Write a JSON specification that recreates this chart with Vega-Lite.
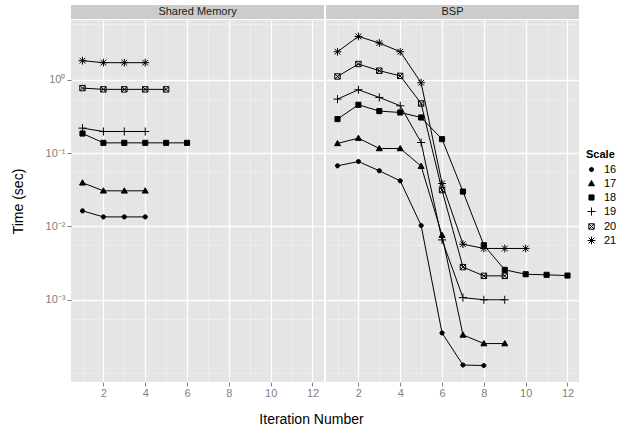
{
  "$schema": "https://vega.github.io/schema/vega-lite/v6.json",
  "padding": {"left": 11, "top": 5, "right": 0, "bottom": 0},
  "background": "white",
  "config": {
    "font": "Liberation Sans",
    "view": {"stroke": null},
    "axis": {"domain": false, "labelColor": "#7F7F7F", "labelFontSize": 11, "tickColor": "#7F7F7F", "tickWidth": 1, "titleFontWeight": "normal", "titleFontSize": 14, "titleColor": "black", "labelFont": "Liberation Sans", "titleFont": "Liberation Sans"}
  },
  "datasets": {
    "times": [
      {"panel": "Shared Memory", "scale": "16", "iter": 1, "time": 0.0163},
      {"panel": "Shared Memory", "scale": "16", "iter": 2, "time": 0.0135},
      {"panel": "Shared Memory", "scale": "16", "iter": 3, "time": 0.0135},
      {"panel": "Shared Memory", "scale": "16", "iter": 4, "time": 0.0135},
      {"panel": "Shared Memory", "scale": "17", "iter": 1, "time": 0.0394},
      {"panel": "Shared Memory", "scale": "17", "iter": 2, "time": 0.0306},
      {"panel": "Shared Memory", "scale": "17", "iter": 3, "time": 0.0306},
      {"panel": "Shared Memory", "scale": "17", "iter": 4, "time": 0.0306},
      {"panel": "Shared Memory", "scale": "18", "iter": 1, "time": 0.185},
      {"panel": "Shared Memory", "scale": "18", "iter": 2, "time": 0.138},
      {"panel": "Shared Memory", "scale": "18", "iter": 3, "time": 0.138},
      {"panel": "Shared Memory", "scale": "18", "iter": 4, "time": 0.138},
      {"panel": "Shared Memory", "scale": "18", "iter": 5, "time": 0.138},
      {"panel": "Shared Memory", "scale": "18", "iter": 6, "time": 0.138},
      {"panel": "Shared Memory", "scale": "19", "iter": 1, "time": 0.219},
      {"panel": "Shared Memory", "scale": "19", "iter": 2, "time": 0.197},
      {"panel": "Shared Memory", "scale": "19", "iter": 3, "time": 0.197},
      {"panel": "Shared Memory", "scale": "19", "iter": 4, "time": 0.197},
      {"panel": "Shared Memory", "scale": "20", "iter": 1, "time": 0.77},
      {"panel": "Shared Memory", "scale": "20", "iter": 2, "time": 0.74},
      {"panel": "Shared Memory", "scale": "20", "iter": 3, "time": 0.74},
      {"panel": "Shared Memory", "scale": "20", "iter": 4, "time": 0.74},
      {"panel": "Shared Memory", "scale": "20", "iter": 5, "time": 0.74},
      {"panel": "Shared Memory", "scale": "21", "iter": 1, "time": 1.82},
      {"panel": "Shared Memory", "scale": "21", "iter": 2, "time": 1.71},
      {"panel": "Shared Memory", "scale": "21", "iter": 3, "time": 1.71},
      {"panel": "Shared Memory", "scale": "21", "iter": 4, "time": 1.71},
      {"panel": "BSP", "scale": "16", "iter": 1, "time": 0.0671},
      {"panel": "BSP", "scale": "16", "iter": 2, "time": 0.0768},
      {"panel": "BSP", "scale": "16", "iter": 3, "time": 0.0574},
      {"panel": "BSP", "scale": "16", "iter": 4, "time": 0.0419},
      {"panel": "BSP", "scale": "16", "iter": 5, "time": 0.0103},
      {"panel": "BSP", "scale": "16", "iter": 6, "time": 0.000353},
      {"panel": "BSP", "scale": "16", "iter": 7, "time": 0.000129},
      {"panel": "BSP", "scale": "16", "iter": 8, "time": 0.000127},
      {"panel": "BSP", "scale": "17", "iter": 1, "time": 0.1355},
      {"panel": "BSP", "scale": "17", "iter": 2, "time": 0.16},
      {"panel": "BSP", "scale": "17", "iter": 3, "time": 0.1156},
      {"panel": "BSP", "scale": "17", "iter": 4, "time": 0.1156},
      {"panel": "BSP", "scale": "17", "iter": 5, "time": 0.0664},
      {"panel": "BSP", "scale": "17", "iter": 6, "time": 0.0076},
      {"panel": "BSP", "scale": "17", "iter": 7, "time": 0.000332},
      {"panel": "BSP", "scale": "17", "iter": 8, "time": 0.000253},
      {"panel": "BSP", "scale": "17", "iter": 9, "time": 0.000253},
      {"panel": "BSP", "scale": "18", "iter": 1, "time": 0.291},
      {"panel": "BSP", "scale": "18", "iter": 2, "time": 0.456},
      {"panel": "BSP", "scale": "18", "iter": 3, "time": 0.374},
      {"panel": "BSP", "scale": "18", "iter": 4, "time": 0.358},
      {"panel": "BSP", "scale": "18", "iter": 5, "time": 0.306},
      {"panel": "BSP", "scale": "18", "iter": 6, "time": 0.155},
      {"panel": "BSP", "scale": "18", "iter": 7, "time": 0.0299},
      {"panel": "BSP", "scale": "18", "iter": 8, "time": 0.00555},
      {"panel": "BSP", "scale": "18", "iter": 9, "time": 0.00256},
      {"panel": "BSP", "scale": "18", "iter": 10, "time": 0.00223},
      {"panel": "BSP", "scale": "18", "iter": 11, "time": 0.00219},
      {"panel": "BSP", "scale": "18", "iter": 12, "time": 0.00214},
      {"panel": "BSP", "scale": "19", "iter": 1, "time": 0.545},
      {"panel": "BSP", "scale": "19", "iter": 2, "time": 0.731},
      {"panel": "BSP", "scale": "19", "iter": 3, "time": 0.574},
      {"panel": "BSP", "scale": "19", "iter": 4, "time": 0.442},
      {"panel": "BSP", "scale": "19", "iter": 5, "time": 0.1395},
      {"panel": "BSP", "scale": "19", "iter": 6, "time": 0.00656},
      {"panel": "BSP", "scale": "19", "iter": 7, "time": 0.00107},
      {"panel": "BSP", "scale": "19", "iter": 8, "time": 0.001},
      {"panel": "BSP", "scale": "19", "iter": 9, "time": 0.001},
      {"panel": "BSP", "scale": "20", "iter": 1, "time": 1.11},
      {"panel": "BSP", "scale": "20", "iter": 2, "time": 1.64},
      {"panel": "BSP", "scale": "20", "iter": 3, "time": 1.33},
      {"panel": "BSP", "scale": "20", "iter": 4, "time": 1.13},
      {"panel": "BSP", "scale": "20", "iter": 5, "time": 0.475},
      {"panel": "BSP", "scale": "20", "iter": 6, "time": 0.0313},
      {"panel": "BSP", "scale": "20", "iter": 7, "time": 0.00279},
      {"panel": "BSP", "scale": "20", "iter": 8, "time": 0.00212},
      {"panel": "BSP", "scale": "20", "iter": 9, "time": 0.00212},
      {"panel": "BSP", "scale": "21", "iter": 1, "time": 2.41},
      {"panel": "BSP", "scale": "21", "iter": 2, "time": 3.9},
      {"panel": "BSP", "scale": "21", "iter": 3, "time": 3.17},
      {"panel": "BSP", "scale": "21", "iter": 4, "time": 2.41},
      {"panel": "BSP", "scale": "21", "iter": 5, "time": 0.91},
      {"panel": "BSP", "scale": "21", "iter": 6, "time": 0.0385},
      {"panel": "BSP", "scale": "21", "iter": 7, "time": 0.00573},
      {"panel": "BSP", "scale": "21", "iter": 8, "time": 0.00501},
      {"panel": "BSP", "scale": "21", "iter": 9, "time": 0.00501},
      {"panel": "BSP", "scale": "21", "iter": 10, "time": 0.00501}
    ]
  },
  "bounds": "flush",
  "columns": 2,
  "spacing": {"row": 1, "column": 2},
  "concat": [
    {
      "width": 253, "height": 14,
      "data": {"values": [{"label": "Shared Memory"}]},
      "mark": {"type": "text", "fontSize": 11, "color": "#1A1A1A", "baseline": "middle", "font": "Liberation Sans"},
      "encoding": {"text": {"field": "label"}},
      "view": {"fill": "#CCCCCC", "stroke": null}
    },
    {
      "width": 253, "height": 14,
      "data": {"values": [{"label": "BSP"}]},
      "mark": {"type": "text", "fontSize": 11, "color": "#1A1A1A", "baseline": "middle", "font": "Liberation Sans"},
      "encoding": {"text": {"field": "label"}},
      "view": {"fill": "#CCCCCC", "stroke": null}
    },
    {
      "width": 253, "height": 362,
      "data": {"name": "times"},
      "transform": [{"filter": "datum.panel == 'Shared Memory'"}],
      "view": {"fill": "#E5E5E5", "stroke": null},
      "encoding": {
        "x": {"field": "iter", "type": "quantitative",
          "scale": {"domain": [0.45, 12.55], "nice": false, "zero": false},
          "axis": {"values": [1,2,3,4,5,6,7,8,9,10,11,12], "title": "Iteration Number", "titleX": 240, "titlePadding": 14,
            "labelExpr": "datum.value % 2 == 0 ? datum.label : ''",
            "gridColor": {"condition": {"test": "datum.value % 2 == 0", "value": "#FFFFFF"}, "value": "#F2F2F2"},
            "gridWidth": {"condition": {"test": "datum.value % 2 == 0", "value": 1.3}, "value": 0.6},
            "tickOpacity": {"condition": {"test": "datum.value % 2 == 0", "value": 1}, "value": 0},
            "tickSize": 4, "labelPadding": 1, "labelOverlap": false, "labelFlush": false}},
        "y": {"field": "time", "type": "quantitative",
          "scale": {"type": "log", "domain": [0.0000757, 6.53], "nice": false},
          "axis": {"values": [5.7, 1, 0.55, 0.1, 0.055, 0.01, 0.0055, 0.001, 0.00055, 0.0001], "title": "Time (sec)", "titlePadding": 20,
            "labelExpr": "datum.value == 1 ? '10⁰' : datum.value == 0.1 ? '10⁻¹' : datum.value == 0.01 ? '10⁻²' : datum.value == 0.001 ? '10⁻³' : ''",
            "gridColor": {"condition": {"test": "datum.value == 1 || datum.value == 0.1 || datum.value == 0.01 || datum.value == 0.001", "value": "#FFFFFF"}, "value": "#F2F2F2"},
            "gridWidth": {"condition": {"test": "datum.value == 1 || datum.value == 0.1 || datum.value == 0.01 || datum.value == 0.001", "value": 1.3}, "value": 0.6},
            "tickOpacity": {"condition": {"test": "datum.value == 1 || datum.value == 0.1 || datum.value == 0.01 || datum.value == 0.001", "value": 1}, "value": 0},
            "tickSize": 4, "labelPadding": 2, "labelOverlap": false, "labelFlush": false}}
      },
      "layer": [
        {"mark": {"type": "line", "color": "black", "strokeWidth": 1}, "encoding": {"detail": {"field": "scale"}}},
        {"mark": {"type": "point", "filled": true, "strokeWidth": 1, "size": 36, "opacity": 1},
          "encoding": {
            "shape": {"field": "scale", "type": "nominal",
              "scale": {"domain": ["16","17","18","19","20","21"], "range": ["M-0.7,0A0.7,0.7 0 1,0 0.7,0A0.7,0.7 0 1,0 -0.7,0Z", "M0,-1L1,0.75L-1,0.75Z", "M-0.85,-0.85H0.85V0.85H-0.85Z", "M-1.35,0H1.35M0,-1.35V1.35", "M-0.9,-0.9H0.9V0.9H-0.9ZM-0.9,-0.9L0.9,0.9M-0.9,0.9L0.9,-0.9", "M-1.3,0H1.3M0,-1.3V1.3M-0.95,-0.95L0.95,0.95M-0.95,0.95L0.95,-0.95"]},
              "legend": {"title": "Scale", "orient": "none", "legendX": 515, "legendY": 144, "titleFontSize": 11, "titleFontWeight": "bold", "titleColor": "black", "labelFontSize": 11, "labelColor": "black", "symbolSize": 36, "symbolStrokeWidth": 1, "rowPadding": 2, "labelOffset": 7, "titlePadding": 4}},
            "fill": {"field": "scale", "type": "nominal",
              "scale": {"domain": ["16","17","18","19","20","21"], "range": ["black","black","black","transparent","transparent","transparent"]}},
            "stroke": {"field": "scale", "type": "nominal",
              "scale": {"domain": ["16","17","18","19","20","21"], "range": ["black","black","black","black","black","black"]}}
          }}
      ]
    },
    {
      "width": 253, "height": 362,
      "data": {"name": "times"},
      "transform": [{"filter": "datum.panel == 'BSP'"}],
      "view": {"fill": "#E5E5E5", "stroke": null},
      "encoding": {
        "x": {"field": "iter", "type": "quantitative",
          "scale": {"domain": [0.45, 12.55], "nice": false, "zero": false},
          "axis": {"values": [1,2,3,4,5,6,7,8,9,10,11,12], "title": null,
            "labelExpr": "datum.value % 2 == 0 ? datum.label : ''",
            "gridColor": {"condition": {"test": "datum.value % 2 == 0", "value": "#FFFFFF"}, "value": "#F2F2F2"},
            "gridWidth": {"condition": {"test": "datum.value % 2 == 0", "value": 1.3}, "value": 0.6},
            "tickOpacity": {"condition": {"test": "datum.value % 2 == 0", "value": 1}, "value": 0},
            "tickSize": 4, "labelPadding": 1, "labelOverlap": false, "labelFlush": false}},
        "y": {"field": "time", "type": "quantitative",
          "scale": {"type": "log", "domain": [0.0000757, 6.53], "nice": false},
          "axis": {"values": [5.7, 1, 0.55, 0.1, 0.055, 0.01, 0.0055, 0.001, 0.00055, 0.0001], "title": null, "labels": false, "ticks": false,
            "gridColor": {"condition": {"test": "datum.value == 1 || datum.value == 0.1 || datum.value == 0.01 || datum.value == 0.001", "value": "#FFFFFF"}, "value": "#F2F2F2"},
            "gridWidth": {"condition": {"test": "datum.value == 1 || datum.value == 0.1 || datum.value == 0.01 || datum.value == 0.001", "value": 1.3}, "value": 0.6}}}
      },
      "layer": [
        {"mark": {"type": "line", "color": "black", "strokeWidth": 1}, "encoding": {"detail": {"field": "scale"}}},
        {"mark": {"type": "point", "filled": true, "strokeWidth": 1, "size": 36, "opacity": 1},
          "encoding": {
            "shape": {"field": "scale", "type": "nominal",
              "scale": {"domain": ["16","17","18","19","20","21"], "range": ["M-0.7,0A0.7,0.7 0 1,0 0.7,0A0.7,0.7 0 1,0 -0.7,0Z", "M0,-1L1,0.75L-1,0.75Z", "M-0.85,-0.85H0.85V0.85H-0.85Z", "M-1.35,0H1.35M0,-1.35V1.35", "M-0.9,-0.9H0.9V0.9H-0.9ZM-0.9,-0.9L0.9,0.9M-0.9,0.9L0.9,-0.9", "M-1.3,0H1.3M0,-1.3V1.3M-0.95,-0.95L0.95,0.95M-0.95,0.95L0.95,-0.95"]},
              "legend": {"title": "Scale", "orient": "none", "legendX": 515, "legendY": 144, "titleFontSize": 11, "titleFontWeight": "bold", "titleColor": "black", "labelFontSize": 11, "labelColor": "black", "symbolSize": 36, "symbolStrokeWidth": 1, "rowPadding": 2, "labelOffset": 7, "titlePadding": 4}},
            "fill": {"field": "scale", "type": "nominal",
              "scale": {"domain": ["16","17","18","19","20","21"], "range": ["black","black","black","transparent","transparent","transparent"]}},
            "stroke": {"field": "scale", "type": "nominal",
              "scale": {"domain": ["16","17","18","19","20","21"], "range": ["black","black","black","black","black","black"]}}
          }}
      ]
    }
  ]
}
